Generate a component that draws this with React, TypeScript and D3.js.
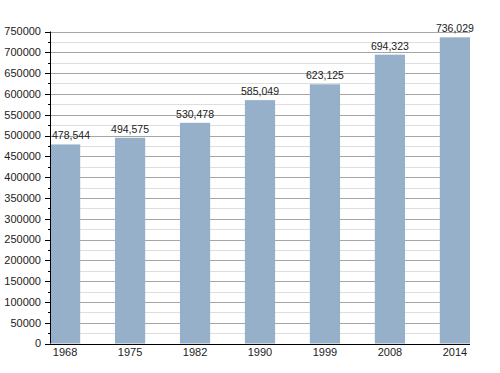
import React, { useEffect, useRef } from 'react';
import * as d3 from 'd3';

// census years and population
const years = ['1968', '1975', '1982', '1990', '1999', '2008', '2014'];
const population = [478544, 494575, 530478, 585049, 623125, 694323, 736029];
const yTicks = [0, 50000, 100000, 150000, 200000, 250000, 300000, 350000, 400000, 450000, 500000, 550000, 600000, 650000, 700000, 750000];

const W = 500;
const H = 373;

const App: React.FC = () => {
  const svgRef = useRef<SVGSVGElement>(null);

  useEffect(() => {
    if (!svgRef.current) return;
    const svg = d3.select(svgRef.current);
    svg.selectAll('*').remove();

    const margin = { left: 50, right: 30, top: 31.5, bottom: 29.5 };
    const x = d3.scaleBand<string>()
      .domain(years)
      .range([margin.left, W - margin.right])
      .paddingInner(0.535)
      .paddingOuter(0);
    const y = d3.scaleLinear()
      .domain([0, 750000])
      .range([H - margin.bottom, margin.top]);

    const font = '"Liberation Sans", Arial, sans-serif';

    // minor grid lines
    const minor = d3.range(25000, 750000, 50000);
    svg.append('g')
      .selectAll('line')
      .data(minor)
      .enter()
      .append('line')
      .attr('x1', margin.left)
      .attr('x2', W - margin.right)
      .attr('y1', d => Math.round(y(d)) + 0.5)
      .attr('y2', d => Math.round(y(d)) + 0.5)
      .attr('stroke', '#dedede');

    // major grid lines
    svg.append('g')
      .selectAll('line')
      .data(yTicks.slice(1))
      .enter()
      .append('line')
      .attr('x1', margin.left)
      .attr('x2', W - margin.right)
      .attr('y1', d => Math.round(y(d)) + 0.5)
      .attr('y2', d => Math.round(y(d)) + 0.5)
      .attr('stroke', '#a6a6a6');

    // bars
    svg.append('g')
      .selectAll('rect')
      .data(population)
      .enter()
      .append('rect')
      .attr('x', (d, i) => x(years[i]) || 0)
      .attr('width', x.bandwidth())
      .attr('y', d => y(d))
      .attr('height', d => y(0) - y(d))
      .attr('fill', '#97b0c9');

    // value labels
    const fmt = d3.format(',');
    svg.append('g')
      .selectAll('text')
      .data(population)
      .enter()
      .append('text')
      .attr('x', (d, i) => {
        const cx = (x(years[i]) || 0) + x.bandwidth() / 2;
        return Math.max(cx, margin.left + 21);
      })
      .attr('y', d => y(d) - 5)
      .attr('text-anchor', 'middle')
      .attr('font-family', font)
      .attr('font-size', 10.5)
      .attr('fill', '#222')
      .text(d => fmt(d));

    // y axis
    const ya = svg.append('g');
    ya.append('line')
      .attr('x1', margin.left + 0.5)
      .attr('x2', margin.left + 0.5)
      .attr('y1', y(750000))
      .attr('y2', y(0))
      .attr('stroke', '#000');
    ya.selectAll('line.major')
      .data(yTicks)
      .enter()
      .append('line')
      .attr('class', 'major')
      .attr('x1', margin.left - 5)
      .attr('x2', margin.left)
      .attr('y1', d => Math.round(y(d)) + 0.5)
      .attr('y2', d => Math.round(y(d)) + 0.5)
      .attr('stroke', '#000');
    ya.selectAll('line.minor')
      .data(minor)
      .enter()
      .append('line')
      .attr('class', 'minor')
      .attr('x1', margin.left - 2)
      .attr('x2', margin.left)
      .attr('y1', d => Math.round(y(d)) + 0.5)
      .attr('y2', d => Math.round(y(d)) + 0.5)
      .attr('stroke', '#000');
    ya.selectAll('text')
      .data(yTicks)
      .enter()
      .append('text')
      .attr('x', margin.left - 9)
      .attr('y', d => y(d))
      .attr('dy', '0.35em')
      .attr('text-anchor', 'end')
      .attr('font-family', font)
      .attr('font-size', 11)
      .attr('fill', '#222')
      .text(d => String(d));

    // x axis
    const xa = svg.append('g');
    xa.append('line')
      .attr('x1', margin.left)
      .attr('x2', W - margin.right)
      .attr('y1', Math.round(y(0)) + 0.5)
      .attr('y2', Math.round(y(0)) + 0.5)
      .attr('stroke', '#000');
    xa.selectAll('text')
      .data(years)
      .enter()
      .append('text')
      .attr('x', d => (x(d) || 0) + x.bandwidth() / 2)
      .attr('y', y(0) + 12)
      .attr('text-anchor', 'middle')
      .attr('font-family', font)
      .attr('font-size', 11)
      .attr('fill', '#222')
      .text(d => d);
  }, []);

  return (
    <svg
      ref={svgRef}
      width={W}
      height={H}
      style={{ position: 'absolute', left: 0, top: 0, background: '#fff' }}
    />
  );
};

export default App;
